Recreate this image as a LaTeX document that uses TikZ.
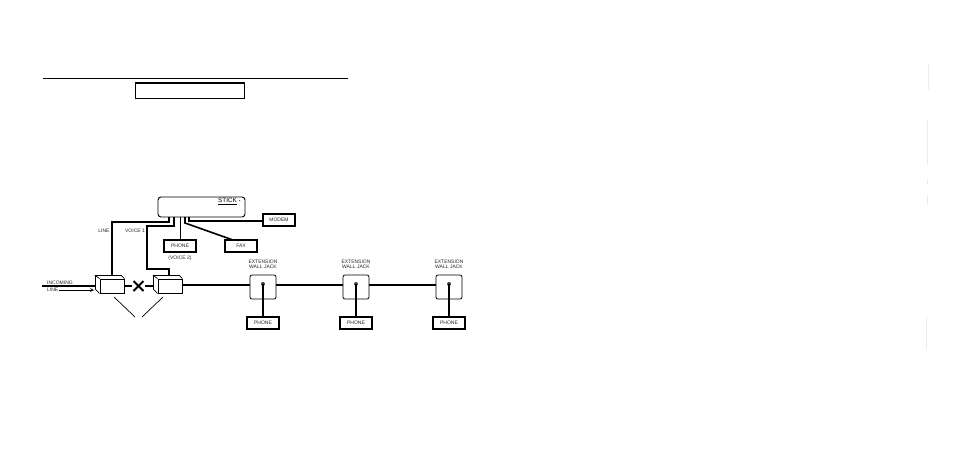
\documentclass[tikz,border=0pt]{standalone}
\usepackage{fontspec}
\setmainfont{Liberation Sans}
\usetikzlibrary{positioning}

\tikzset{
  wire/.style={line width=1.6pt},
  thinline/.style={line width=0.7pt},
  labelbox/.style={draw, line width=1.8pt, inner sep=0pt, minimum width=32pt, minimum height=12pt, font=\fontsize{5}{6}\selectfont, fill=white, text=black!85},
  tag/.style={inner sep=0pt, align=center, font=\fontsize{5}{5.4}\selectfont, text=black!85},
  wallbox/.style={draw, line width=0.8pt, rounded corners=2pt, minimum width=26pt, minimum height=24pt, inner sep=0pt, fill=white},
  frontbox/.style={draw, line width=0.9pt, minimum width=24pt, minimum height=14pt, inner sep=0pt, fill=white},
}

\begin{document}
\begin{tikzpicture}[x=1pt,y=-1pt]
  \useasboundingbox (0,0) rectangle (954,466);

  % heading
  \coordinate (ruleL) at (43,78);
  \coordinate (ruleR) at (348,78);
  \draw[line width=0.9pt] (ruleL) -- (ruleR);
  \node[draw, line width=0.9pt, minimum width=109pt, minimum height=15pt, inner sep=0pt] (titlebox) at (190,91) {};
  \draw[line width=1.8pt] (titlebox.north west) -- (titlebox.north east);

  % stick and what hangs on it
  \node[draw, line width=0.9pt, rounded corners=3pt, minimum width=87pt, minimum height=20pt, inner sep=0pt] (stick) at (201.5,207) {};
  \node[inner sep=0pt, font=\fontsize{6.3}{7}\selectfont] (brand) at (227.5,201.5) {\underline{STICK}};
  \node[inner sep=0pt, right=2pt of brand, font=\fontsize{4}{4}\selectfont] (brandmark) {•};

  \node[labelbox] (modem) at (279,220) {MODEM};
  \node[labelbox] (phonevoice) at (180,246) {PHONE};
  \node[labelbox] (fax) at (241,246) {FAX};

  \node[tag] (linetag) at (104,231) {LINE};
  \node[tag] (voicetag) at (135,231) {VOICE 1};
  \node[tag] (voicetwo) at (180,258.5) {(VOICE 2)};
  \node[tag, anchor=west] (intag) at (47,282.5) {INCOMING};
  \node[tag, anchor=west] (linein) at (47,290) {LINE};

  % the two jacks on the incoming line
  \node[frontbox] (jackA) at (112,286) {};
  \node[frontbox] (jackB) at (170,286) {};
  \foreach \jack in {jackA,jackB}{
    \draw[thinline] (\jack.north west) -- ++(-4,-3) -- ++(26,0) -- (\jack.north east);
    \draw[thinline] (\jack.north west) ++(-4,-3) -- ++(0,14) -- (\jack.south west);
  }

  \coordinate (instart) at (42,286);
  \coordinate (arrowstart) at (59,290);
  \coordinate (arrowend) at (94,290);
  \draw[wire] (instart) -- (95.5,286);
  \draw[thinline, ->, >=stealth] (arrowstart) -- (arrowend);

  % the cut between the jacks
  \coordinate (cross) at (138.5,286);
  \draw[wire] (jackA.east) -- (132,286);
  \draw[wire] (145,286) -- (153.5,286);
  \draw[line width=1.8pt] (cross) ++(-5,-5) -- ++(10,10);
  \draw[line width=1.8pt] (cross) ++(5,-5) -- ++(-10,10);

  % pointers under the jacks
  \coordinate (fromA) at (114,297);
  \coordinate (fromB) at (163,297);
  \coordinate (tipA) at (135,317);
  \coordinate (tipB) at (142,317);
  \draw[thinline] (fromA) -- (tipA);
  \draw[thinline] (fromB) -- (tipB);

  % wires out of the stick
  \draw[wire] (169,217) -- (169,222) -- (112,222) -- (112,276);
  \draw[wire] (174,217) -- (174,226) -- (147,226) -- (147,269) -- (169,269) -- (169,276);
  \draw[line width=1pt] (180,217) -- (phonevoice.north);
  \draw[wire] (185,217) -- (185,223) -- (233,240);
  \draw[wire] (189,217) -- (189,221) -- (modem.west |- 0,221);

  % extension jacks
  \foreach \name/\x in {one/263, two/356, three/449}{
    \node[wallbox] (wall\name) at (\x,287) {};
    \node[labelbox] (phone\name) at (\x,323) {PHONE};
    \node[tag] (ext\name) at (\x,264.5) {EXTENSION\\WALL JACK};
    \node[circle, fill=black!75, inner sep=0pt, minimum size=4pt] (socket\name) at (\x,284) {};
    \draw[wire] (phone\name.north) -- (socket\name.center);
  }

  \coordinate (wallrow) at (0,285);
  \draw[wire] (jackB.east |- wallrow) -- (wallone.west |- wallrow);
  \draw[wire] (wallone.east |- wallrow) -- (walltwo.west |- wallrow);
  \draw[wire] (walltwo.east |- wallrow) -- (wallthree.west |- wallrow);

  % faint marks near the right edge
  \foreach \x/\a/\b in {928/63/90, 927/120/165, 927/180/185, 927/195/205, 926/317/350}
    \draw[black!8, line width=0.6pt] (\x,\a) -- (\x,\b);
\end{tikzpicture}
\end{document}
